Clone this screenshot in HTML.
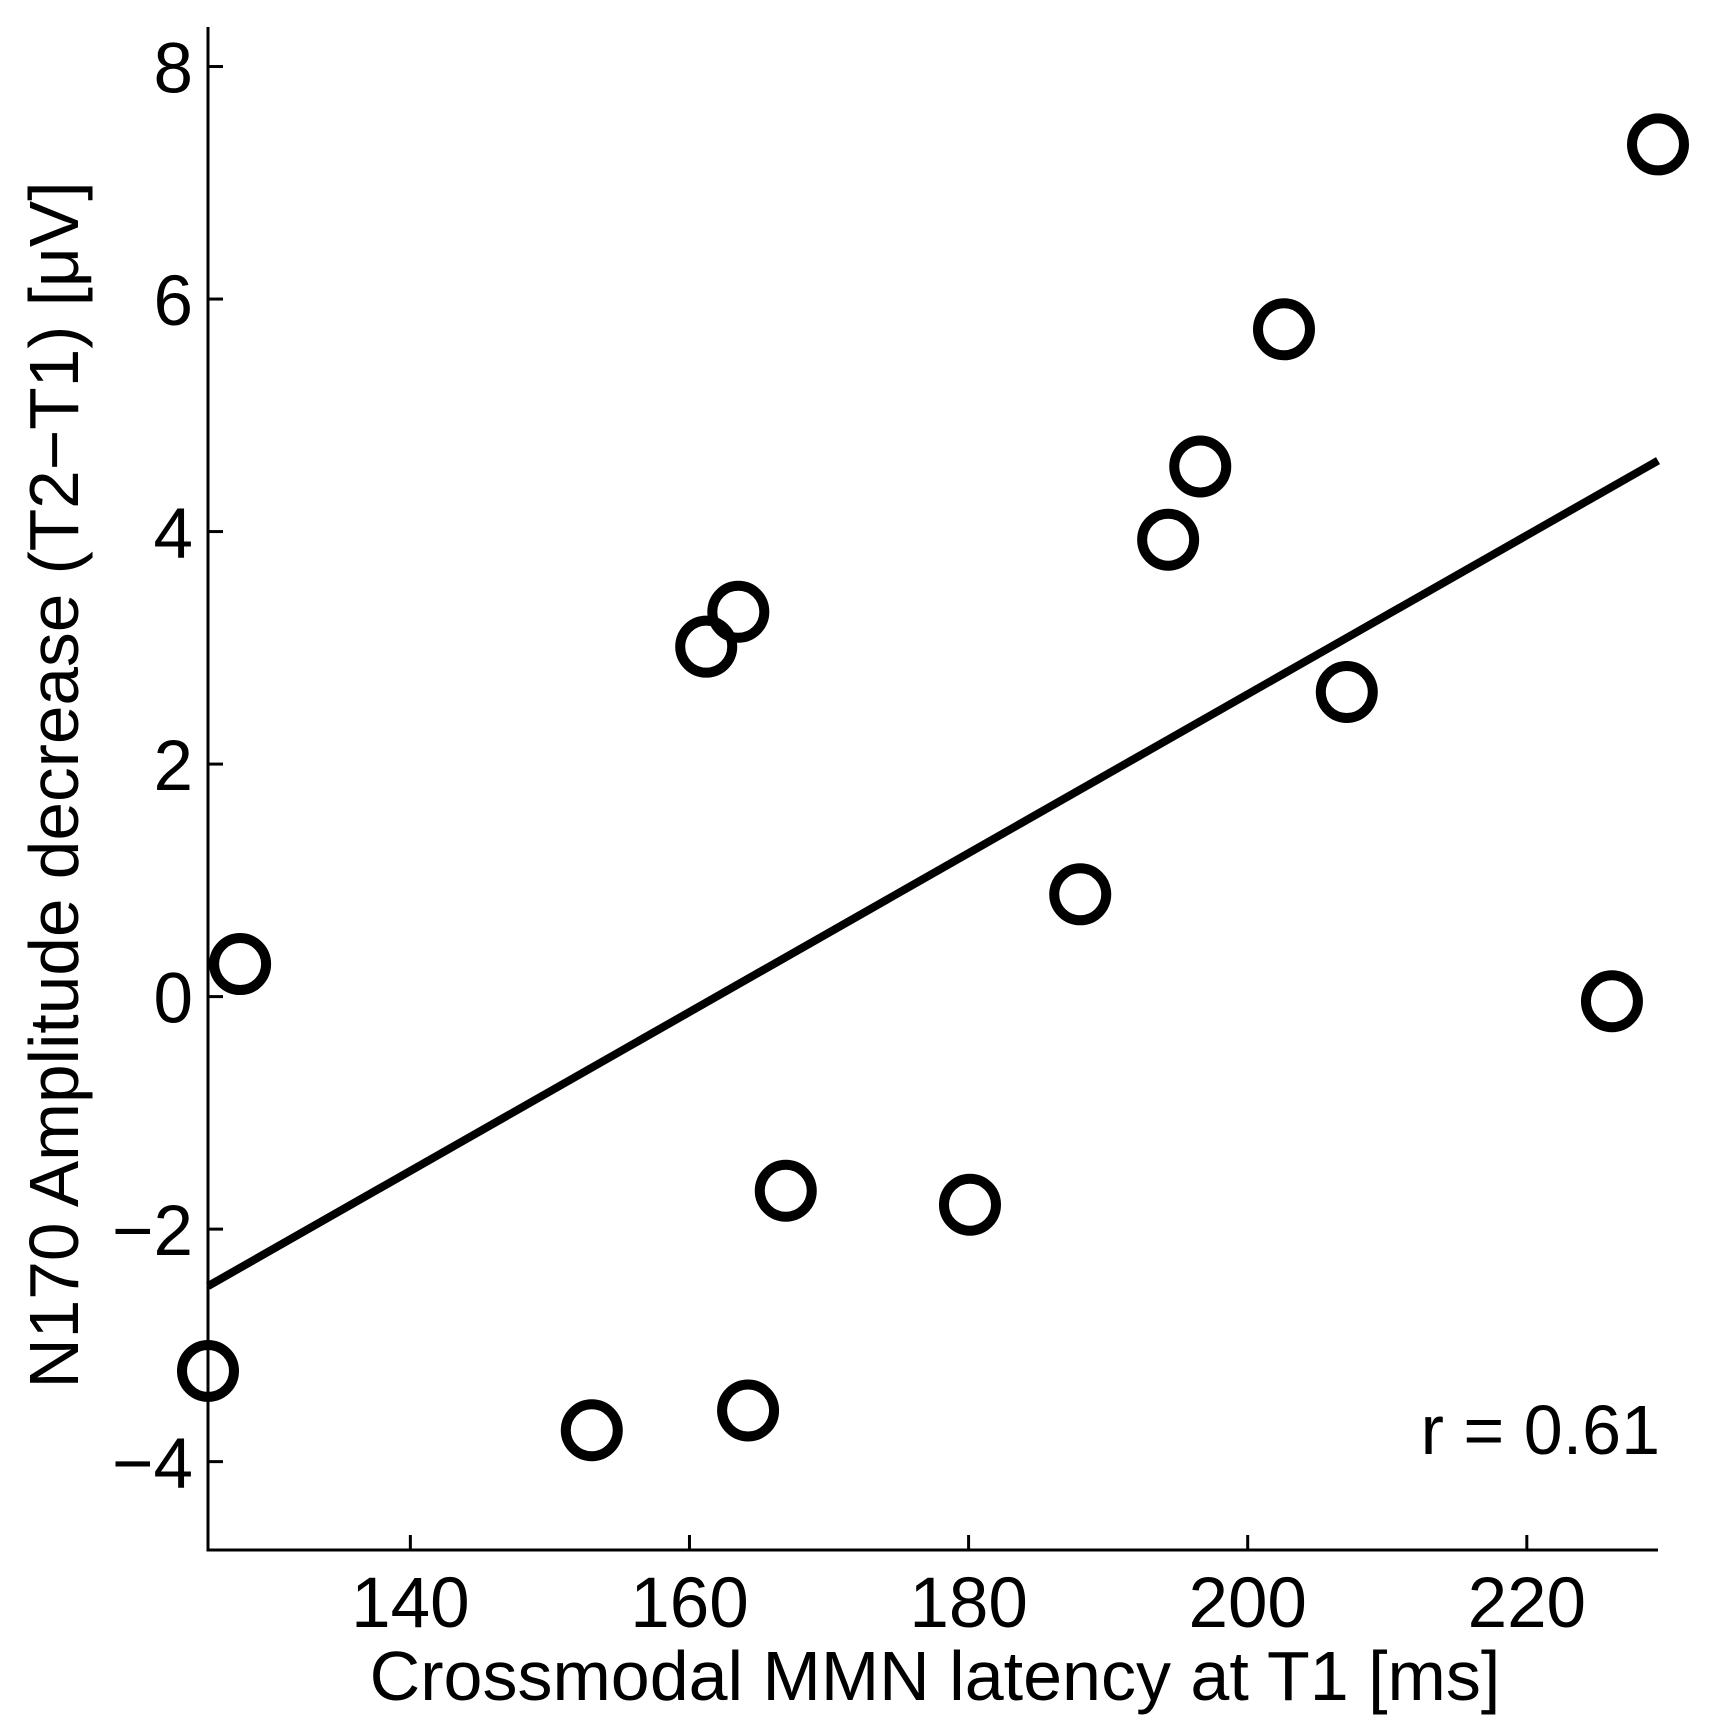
<!DOCTYPE html>
<html><head><meta charset="utf-8"><style>body{margin:0;background:#fff}svg{display:block}text{font-family:"Liberation Sans",sans-serif;fill:#000}</style></head>
<body>
<svg id="chart" width="1711" height="1728" viewBox="0 0 1711 1728" xmlns="http://www.w3.org/2000/svg">
<g id="axes"></g><g id="marks"></g>
<text x="935" y="1700" font-size="70" text-anchor="middle">Crossmodal MMN latency at T1 [ms]</text>
<text transform="translate(78,785) rotate(-90)" font-size="70" text-anchor="middle" textLength="1207" lengthAdjust="spacingAndGlyphs">N170 Amplitude decrease (T2−T1) [μV]</text>
<text x="1660" y="1454" font-size="70" text-anchor="end">r = 0.61</text>
</svg>
<script>
const xs = [127.8,125.5,153.0,164.2,161.2,163.5,166.9,180.1,188.0,194.3,196.6,202.6,207.1,226.1,229.4];
const ys = [0.28,-3.22,-3.73,-3.56,3.01,3.31,-1.67,-1.79,0.88,3.93,4.56,5.74,2.62,-0.04,7.33];
const lineX = [125.5,229.4];
const lineY = [-2.49,4.61];
const xTicks = [140,160,180,200,220];
const yTicks = [-4,-2,0,2,4,6,8];
const X0=208,X1=1658,Y0=1550,Y1=27,XMIN=125.5,XMAX=229.4,YMIN=-4.76,YMAX=8.34;
const sx=v=>X0+(v-XMIN)/(XMAX-XMIN)*(X1-X0);
const sy=v=>Y0-(v-YMIN)/(YMAX-YMIN)*(Y0-Y1);
const NS="http://www.w3.org/2000/svg";
function mk(t,a,p){const e=document.createElementNS(NS,t);for(const k in a)e.setAttribute(k,a[k]);p.appendChild(e);return e;}
const ax=document.getElementById('axes'),mg=document.getElementById('marks');
let e=mk('path',{d:`M${X0},${Y1}V${Y0}H${X1}`,fill:'none',stroke:'#000','stroke-width':3},ax);


xTicks.forEach(t=>{const x=sx(t);
 let l=mk('line',{x1:x,x2:x,y1:Y0,y2:Y0-15,stroke:'#000','stroke-width':3},ax);
 
 
 let s=mk('text',{x:x,y:1627,'font-size':71,'text-anchor':'middle'},ax);s.textContent=t;
 
 });
yTicks.forEach(t=>{const y=sy(t);
 let l=mk('line',{x1:X0,x2:X0+15,y1:y,y2:y,stroke:'#000','stroke-width':3},ax);
 
 
 let s=mk('text',{x:193,y:y+26,'font-size':71,'text-anchor':'end'},ax);s.textContent=t<0?'−'+Math.abs(t):t;
 
 });
let ln=mk('line',{x1:sx(lineX[0]),y1:sy(lineY[0]),x2:sx(lineX[1]),y2:sy(lineY[1]),stroke:'#000','stroke-width':8},mg);


xs.forEach((v,i)=>{let c=mk('circle',{cx:sx(v),cy:sy(ys[i]),r:26,fill:'none',stroke:'#000','stroke-width':10},mg);
 
 });
</script>
</body></html>
